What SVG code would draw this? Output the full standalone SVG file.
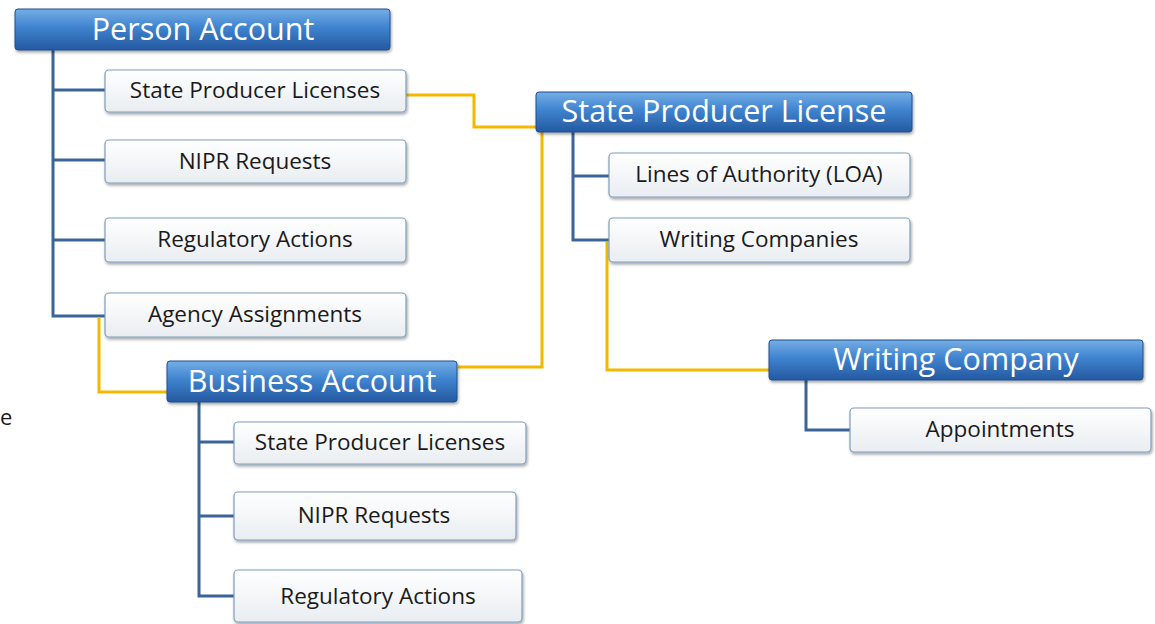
<svg xmlns="http://www.w3.org/2000/svg" width="1155" height="624" viewBox="0 0 1155 624">
  <defs>
    <linearGradient id="hdrFill" x1="0" y1="0" x2="0" y2="1">
      <stop offset="0" stop-color="#74aee6"/>
      <stop offset="0.45" stop-color="#3f83cf"/>
      <stop offset="1" stop-color="#2459a0"/>
    </linearGradient>
    <linearGradient id="itemFill" x1="0" y1="0" x2="0" y2="1">
      <stop offset="0" stop-color="#ffffff"/>
      <stop offset="1" stop-color="#e9edf1"/>
    </linearGradient>
    <filter id="shadow" x="-5%" y="-20%" width="110%" height="150%">
      <feDropShadow dx="1" dy="2" stdDeviation="1.5" flood-color="#000" flood-opacity="0.35"/>
    </filter>
    <style>
      .hdr rect { fill: url(#hdrFill); stroke: #1e4f8c; stroke-width: 1; filter: url(#shadow); }
      .hdr text { font-family: "Open Sans", "Liberation Sans", sans-serif; font-size: 30.5px; fill: #ffffff; text-anchor: middle; }
      .item rect { fill: url(#itemFill); stroke: #7e9dbf; stroke-width: 1.2; filter: url(#shadow); }
      .item text { font-family: "Open Sans", "Liberation Sans", sans-serif; font-size: 22.5px; fill: #1a1a1a; text-anchor: middle; }
      .tree { fill: none; stroke: #3a6499; stroke-width: 3; }
      .link { fill: none; stroke: #f5b800; stroke-width: 3; }
    </style>
  </defs>

  <rect width="1155" height="624" fill="#ffffff"/>

  <!-- connectors -->
  <g id="connectors">
    <!-- hierarchy lines -->
    <path class="tree" d="M53 50 V316 H105 M53 90 H105 M53 160 H105 M53 240 H105"/>
    <path class="tree" d="M199 402 V596 H234 M199 442 H234 M199 516 H234"/>
    <path class="tree" d="M573 132 V240 H609 M573 176 H609"/>
    <path class="tree" d="M806 380 V430 H850"/>
    <!-- cross links -->
    <path class="link" d="M406 95 H474 V127 H542"/>
    <path class="link" d="M458 367 H542 V120"/>
    <path class="link" d="M99 317 V392 H167"/>
    <path class="link" d="M607 242 V370 H769"/>
  </g>

  <!-- header nodes -->
  <g id="person-account" class="hdr">
    <rect x="15" y="9" width="375" height="41" rx="3"/>
    <text x="203" y="40">Person Account</text>
  </g>
  <g id="business-account" class="hdr">
    <rect x="167" y="361" width="290" height="41" rx="3"/>
    <text x="312" y="392">Business Account</text>
  </g>
  <g id="state-producer-license" class="hdr">
    <rect x="536" y="92" width="376" height="40" rx="3"/>
    <text x="724" y="122">State Producer License</text>
  </g>
  <g id="writing-company" class="hdr">
    <rect x="769" y="340" width="374" height="40" rx="3"/>
    <text x="956" y="370">Writing Company</text>
  </g>

  <!-- Person Account items -->
  <g id="pa-licenses" class="item">
    <rect x="105" y="70" width="301" height="42" rx="4"/>
    <text x="255" y="98">State Producer Licenses</text>
  </g>
  <g id="pa-nipr" class="item">
    <rect x="105" y="140" width="301" height="43" rx="4"/>
    <text x="255" y="169">NIPR Requests</text>
  </g>
  <g id="pa-regulatory" class="item">
    <rect x="105" y="218" width="301" height="44" rx="4"/>
    <text x="255" y="247">Regulatory Actions</text>
  </g>
  <g id="pa-agency" class="item">
    <rect x="105" y="293" width="301" height="44" rx="4"/>
    <text x="255" y="322">Agency Assignments</text>
  </g>

  <!-- Business Account items -->
  <g id="ba-licenses" class="item">
    <rect x="234" y="422" width="292" height="42" rx="4"/>
    <text x="380" y="450">State Producer Licenses</text>
  </g>
  <g id="ba-nipr" class="item">
    <rect x="234" y="492" width="282" height="48" rx="4"/>
    <text x="374" y="523">NIPR Requests</text>
  </g>
  <g id="ba-regulatory" class="item">
    <rect x="234" y="570" width="288" height="52" rx="4"/>
    <text x="378" y="604">Regulatory Actions</text>
  </g>

  <!-- State Producer License items -->
  <g id="spl-loa" class="item">
    <rect x="609" y="153" width="301" height="44" rx="4"/>
    <text x="759" y="182">Lines of Authority (LOA)</text>
  </g>
  <g id="spl-writing" class="item">
    <rect x="609" y="218" width="301" height="44" rx="4"/>
    <text x="759" y="247">Writing Companies</text>
  </g>

  <!-- Writing Company items -->
  <g id="wc-appointments" class="item">
    <rect x="850" y="408" width="301" height="44" rx="4"/>
    <text x="1000" y="437">Appointments</text>
  </g>

  <text x="0" y="425" font-family="Open Sans, Liberation Sans, sans-serif" font-size="22" fill="#1a1a1a">e</text>
</svg>
